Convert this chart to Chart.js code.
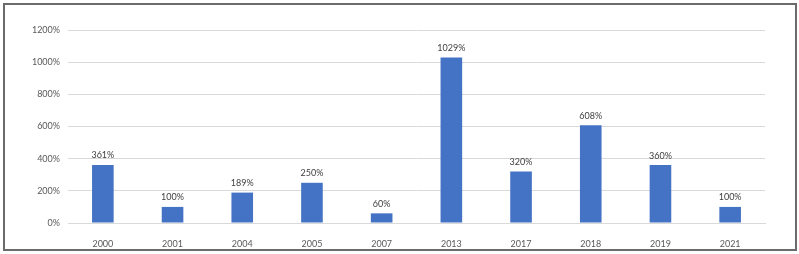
<!DOCTYPE html>
<html>
<head>
<meta charset="utf-8">
<script src="https://cdn.jsdelivr.net/npm/chart.js@4"></script>
<style>
  html, body { margin: 0; padding: 0; background: #fff; }
  #frame {
    position: absolute; left: 3px; top: 3px;
    width: 790px; height: 244px;
    border: 2px solid #6b6b6b;
  }
  canvas { display: block; }
</style>
</head>
<body>
<div id="frame"><canvas id="growthChart" width="790" height="244"></canvas></div>
<script>
const years = ['2000', '2001', '2004', '2005', '2007', '2013', '2017', '2018', '2019', '2021'];
const growth = [361, 100, 189, 250, 60, 1029, 320, 608, 360, 100];
const yTicks = [0, 200, 400, 600, 800, 1000, 1200];

// value labels above each bar
const barLabels = {
  id: 'barLabels',
  afterDatasetsDraw(chart) {
    const ctx = chart.ctx;
    const meta = chart.getDatasetMeta(0);
    ctx.save();
    ctx.font = '9px Lato';
    ctx.fillStyle = '#404040';
    ctx.textAlign = 'center';
    ctx.textBaseline = 'bottom';
    meta.data.forEach((bar, i) => {
      ctx.fillText(growth[i] + '%', bar.x, bar.y - 5);
    });
    ctx.restore();
  }
};

const ctx = document.getElementById('growthChart').getContext('2d');
new Chart(ctx, {
  type: 'bar',
  data: {
    labels: years,
    datasets: [{
      data: growth,
      backgroundColor: '#4472C4',
      barPercentage: 0.31,
      categoryPercentage: 1
    }]
  },
  options: {
    responsive: false,
    animation: false,
    layout: { padding: { left: 10, right: 30, top: 25, bottom: 0 } },
    scales: {
      y: {
        min: 0,
        max: 1200,
        afterFit(scale) { scale.width = 53; },
        afterBuildTicks(scale) { scale.ticks = yTicks.map(v => ({ value: v })); },
        grid: { color: '#d9d9d9', drawTicks: false },
        border: { display: false },
        ticks: {
          padding: 8,
          color: '#595959',
          font: { family: 'Lato', size: 9 },
          callback: v => v + '%'
        }
      },
      x: {
        afterFit(scale) { scale.height = 26; },
        grid: { display: false },
        border: { color: '#d9d9d9' },
        ticks: {
          padding: 8,
          color: '#595959',
          font: { family: 'Lato', size: 9 }
        }
      }
    },
    plugins: {
      legend: { display: false },
      tooltip: { enabled: false }
    }
  },
  plugins: [barLabels]
});
</script>
</body>
</html>
